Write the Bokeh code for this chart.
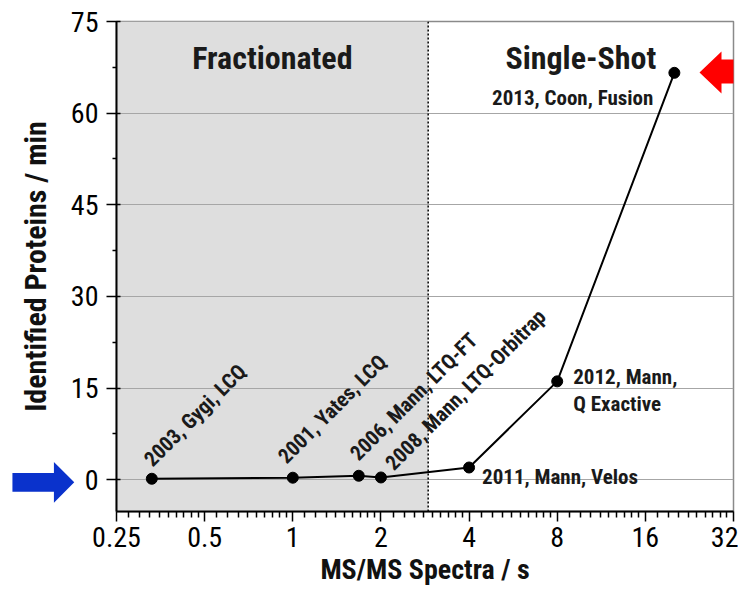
import math
from bokeh.plotting import figure
from bokeh.models import (ColumnDataSource, FixedTicker, BoxAnnotation, Span,
                          PolyAnnotation, Range1d, LinearAxis)
from bokeh.core.properties import value
from bokeh.embed import file_html
from bokeh.resources import INLINE

# ---- data ----
spectra_per_s = [0.33, 1.0, 1.68, 2.0, 4.0, 8.0, 20.1]
proteins_per_min = [0.16, 0.33, 0.65, 0.37, 2.0, 16.1, 66.6]
point_labels = ["2003, Gygi, LCQ", "2001, Yates, LCQ", "2006, Mann, LTQ-FT",
                "2008, Mann, LTQ-Orbitrap", "2011, Mann, Velos",
                "2012, Mann,|Q Exactive", "2013, Coon, Fusion"]
x_ticks = [0.25, 0.5, 1, 2, 4, 8, 16, 32]
x_tick_labels = ["0.25", "0.5", "1", "2", "4", "8", "16", "32"]
y_ticks = [0, 15, 30, 45, 60, 75]
y_minor_ticks = [7.5, 22.5, 37.5, 52.5, 67.5]
split_x = 2.9
region_names = ["Fractionated", "Single-Shot"]

NARROW = "'Roboto Condensed', 'Liberation Sans', sans-serif"

p = figure(width=738, height=593, x_axis_type="log",
           x_range=Range1d(0.25, 32), y_range=Range1d(-5.2, 75),
           output_backend="svg", toolbar_location=None,
           min_border_left=116, min_border_right=5, min_border_top=21,
           min_border_bottom=82)

p.background_fill_color = "white"
p.border_fill_color = "white"
p.outline_line_color = "#8a8a8a"
p.outline_line_width = 1.5

# shaded "Fractionated" region + divider
p.add_layout(BoxAnnotation(right=split_x, fill_color="#dedede", fill_alpha=1.0,
                           line_color=None, level="image"))
p.add_layout(Span(location=split_x, dimension="height", line_color="black",
                  line_width=1.5, line_dash="2 2", level="underlay"))

# grid
p.xgrid.visible = False
p.ygrid.grid_line_color = "#a6a6a6"
p.ygrid.grid_line_width = 1.2

# axes
minor_x = [t * (1 + k / 10) for t in x_ticks[:-1] for k in range(1, 10)]
xax = p.xaxis[0]
yax = p.yaxis[0]
xax.ticker = FixedTicker(ticks=x_ticks, minor_ticks=minor_x)
xax.major_label_overrides = dict(zip(x_ticks, x_tick_labels))
yax.ticker = FixedTicker(ticks=y_ticks, minor_ticks=y_minor_ticks)

for ax in (xax, yax):
    ax.axis_line_color = "black"
    ax.axis_line_width = 2
    ax.major_tick_line_color = "black"
    ax.major_tick_line_width = 1.5
    ax.minor_tick_line_color = "black"
    ax.minor_tick_line_width = 1.5
    ax.major_label_text_font = NARROW
    ax.major_label_text_font_size = "28px"
    ax.major_label_text_color = "black"

xax.axis_label = "MS/MS Spectra / s"
xax.axis_label_text_font = NARROW
xax.axis_label_text_font_style = "bold"
xax.axis_label_text_color = "#111111"
xax.axis_label_text_font_size = "28px"
xax.major_tick_out = 10
xax.major_tick_in = 0
xax.minor_tick_out = 6
xax.minor_tick_in = 0
xax.major_label_standoff = 5
xax.axis_label_standoff = 3
yax.major_tick_out = 10
yax.major_tick_in = 4
yax.minor_tick_out = 4
yax.minor_tick_in = 0
yax.major_label_standoff = 8

# outer left axis: carries the y title and the blue marker arrow at y = 0
outer = LinearAxis(ticker=FixedTicker(ticks=[0], minor_ticks=[]),
                   major_label_overrides={0: "\u27a1"},
                   axis_line_color=None, major_tick_line_color=None,
                   minor_tick_line_color=None, major_tick_out=0,
                   major_tick_in=0, major_label_standoff=-9,
                   major_label_text_font="DejaVu Sans",
                   major_label_text_font_size="82px",
                   major_label_text_color="#0a32cc",
                   axis_label="Identified Proteins / min",
                   axis_label_text_font=NARROW,
                   axis_label_text_font_style="bold",
                   axis_label_text_font_size="30px",
                   axis_label_text_color="#111111",
                   axis_label_standoff=-48)
p.add_layout(outer, "left")

# line + points
src = ColumnDataSource(dict(x=spectra_per_s, y=proteins_per_min))
p.line("x", "y", source=src, line_color="black", line_width=2)
p.scatter("x", "y", source=src, size=11, fill_color="black", line_color="black")

# region headers
hdr_x = [math.sqrt(x_ticks[0] * split_x), math.sqrt(split_x * x_ticks[-1])]
p.text(x=hdr_x, y=[69, 69], text=region_names, text_align="center",
       text_baseline="alphabetic", text_font=value(NARROW),
       text_font_size="32px", text_font_style="bold", text_color="#1a1a1a")

label_style = dict(text_font=value(NARROW), text_font_size="21px",
                   text_font_style="bold", text_color="#1a1a1a",
                   text_baseline="alphabetic")

# rotated labels (first four points)
rot = ColumnDataSource(dict(x=spectra_per_s[:4], y=proteins_per_min[:4],
                            t=point_labels[:4], dx=[-4, -11, -5, 8],
                            dy=[-16, -18, -19, -11]))
p.text(x="x", y="y", text="t", source=rot, angle=45, angle_units="deg",
       x_offset="dx", y_offset="dy", text_align="left", **label_style)

# horizontal labels
hx, hy, ht, hdx, hdy, ha = [], [], [], [], [], []
offs = {4: [(13, 9, "left")], 5: [(16, -4, "left"), (16, 23, "left")],
        6: [(-21, 25, "right")]}
for i, lst in offs.items():
    parts = point_labels[i].split("|")
    for part, (dx, dy, al) in zip(parts, lst):
        hx.append(spectra_per_s[i]); hy.append(proteins_per_min[i])
        ht.append(part); hdx.append(dx); hdy.append(dy); ha.append(al)
hor = ColumnDataSource(dict(x=hx, y=hy, t=ht, dx=hdx, dy=hdy, a=ha))
p.text(x="x", y="y", text="t", source=hor, x_offset="dx", y_offset="dy",
       text_align="a", **label_style)

# red marker arrow (screen units, relative to the frame's lower-left corner)
p.add_layout(PolyAnnotation(xs=[583, 605, 605, 630, 630, 605, 605],
                            ys=[439, 460, 452, 452, 428, 428, 418],
                            xs_units="screen", ys_units="screen",
                            fill_color="#ff0000", fill_alpha=1.0,
                            line_color=None, level="overlay"))

open("out.html", "w").write(file_html(p, INLINE))
